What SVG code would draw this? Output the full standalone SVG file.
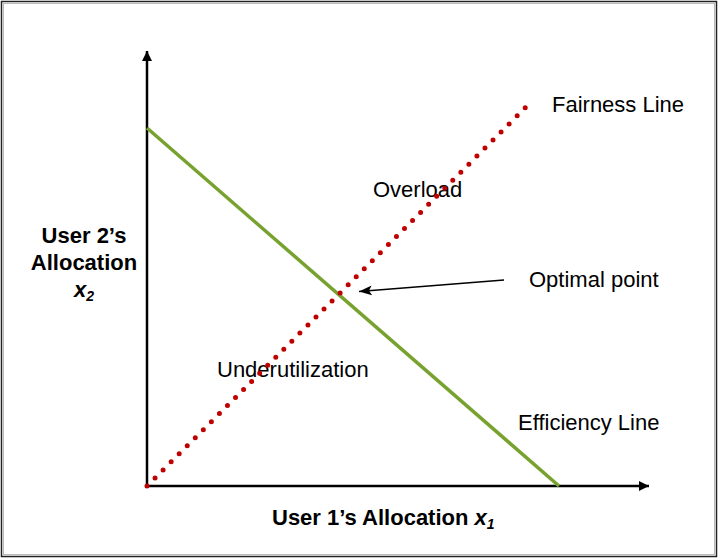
<svg xmlns="http://www.w3.org/2000/svg" width="718" height="560" viewBox="0 0 718 560">
<style>
.lbl{font-family:"Liberation Sans",Arial,sans-serif;font-size:22px;fill:#000}
.bold{font-weight:bold}
.ax{stroke:#000;stroke-width:2.5;fill:none}
</style>
<defs>
<marker id="axh" markerWidth="10" markerHeight="10" refX="10" refY="5" orient="auto" markerUnits="userSpaceOnUse">
<path d="M0,0 L10,5 L0,10 Z" fill="#000"/>
</marker>
<marker id="callh" markerWidth="13" markerHeight="10" refX="13" refY="5" orient="auto" markerUnits="userSpaceOnUse">
<path d="M0,0 L13,5 L0,10 L3,5 Z" fill="#000"/>
</marker>
</defs>
<rect x="0" y="0" width="718" height="560" fill="#fff"/>
<rect x="1.5" y="1.5" width="715" height="555" fill="none" stroke="#222" stroke-width="1.5"/>
<rect x="3.5" y="3.5" width="711" height="551" fill="none" stroke="#bbb" stroke-width="1"/>
<g id="labels">
<text class="lbl" x="373" y="197">Overload</text>
<text class="lbl" x="217" y="377">Underutilization</text>
<text class="lbl" x="552" y="112">Fairness Line</text>
<text class="lbl" x="529" y="287">Optimal point</text>
<text class="lbl" x="518" y="430">Efficiency Line</text>
<text class="lbl bold" x="84" y="243" text-anchor="middle">User 2’s</text>
<text class="lbl bold" x="84" y="270" text-anchor="middle">Allocation</text>
<text class="lbl bold" x="84" y="297" text-anchor="middle" font-style="italic">x<tspan font-size="14" dy="4">2</tspan></text>
<text class="lbl bold" x="272" y="525">User 1’s Allocation <tspan font-style="italic">x<tspan font-size="14" dy="4">1</tspan></tspan></text>
</g>
<g id="connectors">
<line id="y-axis" class="ax" x1="147" y1="487" x2="147" y2="51" marker-end="url(#axh)"/>
<line id="x-axis" class="ax" x1="146" y1="486" x2="649" y2="486" marker-end="url(#axh)"/>
<line id="efficiency-line" x1="147" y1="128" x2="559" y2="486" stroke="#78A22F" stroke-width="3.5"/>
<line id="fairness-line" x1="147" y1="486" x2="527" y2="106" stroke="#C00000" stroke-width="5" stroke-linecap="round" stroke-dasharray="0 11.38"/>
<line id="optimal-arrow" x1="504" y1="280" x2="359" y2="291.5" stroke="#000" stroke-width="1.6" marker-end="url(#callh)"/>
</g>
</svg>
